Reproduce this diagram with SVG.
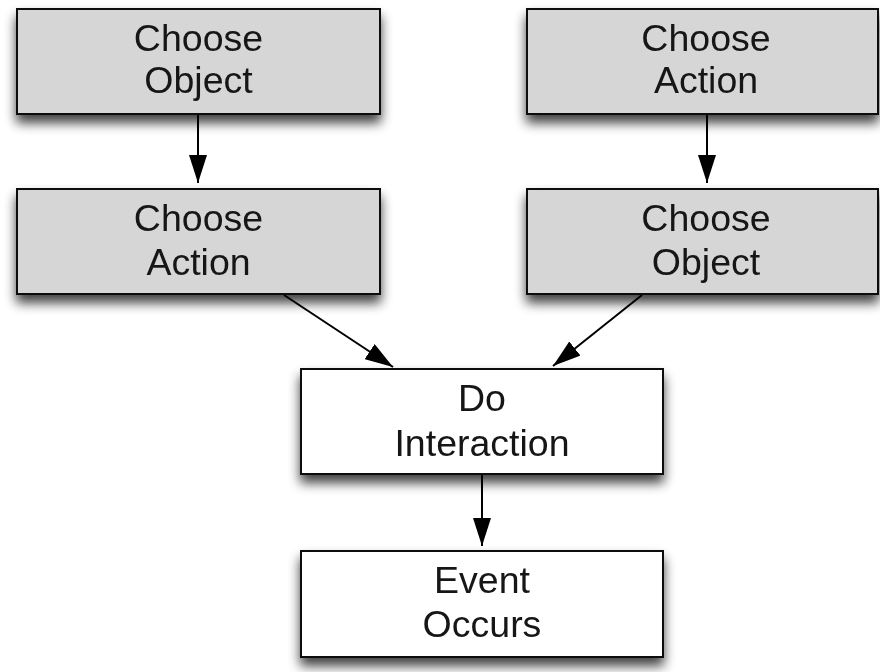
<svg xmlns="http://www.w3.org/2000/svg" width="880" height="672" viewBox="0 0 880 672">
  <defs>
    <filter id="shadow" x="-10%" y="-20%" width="120%" height="170%">
      <feGaussianBlur in="SourceAlpha" stdDeviation="6"/>
      <feOffset dx="0" dy="8" result="blur"/>
      <feComponentTransfer><feFuncA type="linear" slope="0.75"/></feComponentTransfer>
      <feMerge><feMergeNode/><feMergeNode in="SourceGraphic"/></feMerge>
    </filter>
    <marker id="arrow" viewBox="0 0 28 18" refX="28" refY="9" markerWidth="28" markerHeight="18" markerUnits="userSpaceOnUse" orient="auto">
      <path d="M0,0 L28,9 L0,18 Z" fill="#000"/>
    </marker>
  </defs>
  <style>
    .box { stroke: #111; stroke-width: 2; }
    .grey { fill: #d6d6d6; }
    .white { fill: #ffffff; }
    .label { font-family: "Liberation Sans", Arial, sans-serif; font-size: 37.5px; fill: #151515; text-anchor: middle; }
    .edge { stroke: #000; stroke-width: 2; fill: none; marker-end: url(#arrow); }
  </style>
  <rect width="880" height="672" fill="#ffffff"/>

  <g id="connectors">
    <line class="edge" x1="198" y1="115" x2="198" y2="183"/>
    <line class="edge" x1="707" y1="115" x2="707" y2="183"/>
    <line class="edge" x1="284" y1="295" x2="393" y2="367"/>
    <line class="edge" x1="642" y1="295" x2="553" y2="366"/>
    <line class="edge" x1="482" y1="475" x2="482" y2="546"/>
  </g>

  <g id="choose-object-left" filter="url(#shadow)">
    <rect class="box grey" x="17" y="9" width="363" height="105"/>
    <text class="label" x="198.5" y="51">Choose</text>
    <text class="label" x="198.5" y="93">Object</text>
  </g>

  <g id="choose-action-left" filter="url(#shadow)">
    <rect class="box grey" x="17" y="189" width="363" height="105"/>
    <text class="label" x="198.5" y="231">Choose</text>
    <text class="label" x="198.5" y="275">Action</text>
  </g>

  <g id="choose-action-right" filter="url(#shadow)">
    <rect class="box grey" x="527" y="9" width="351" height="105"/>
    <text class="label" x="706" y="51">Choose</text>
    <text class="label" x="706" y="93">Action</text>
  </g>

  <g id="choose-object-right" filter="url(#shadow)">
    <rect class="box grey" x="527" y="189" width="351" height="105"/>
    <text class="label" x="706" y="231">Choose</text>
    <text class="label" x="706" y="275">Object</text>
  </g>

  <g id="do-interaction" filter="url(#shadow)">
    <rect class="box white" x="301" y="369" width="362" height="105"/>
    <text class="label" x="482" y="411">Do</text>
    <text class="label" x="482" y="456">Interaction</text>
  </g>

  <g id="event-occurs" filter="url(#shadow)">
    <rect class="box white" x="301" y="551" width="362" height="106"/>
    <text class="label" x="482" y="593">Event</text>
    <text class="label" x="482" y="637">Occurs</text>
  </g>
</svg>
